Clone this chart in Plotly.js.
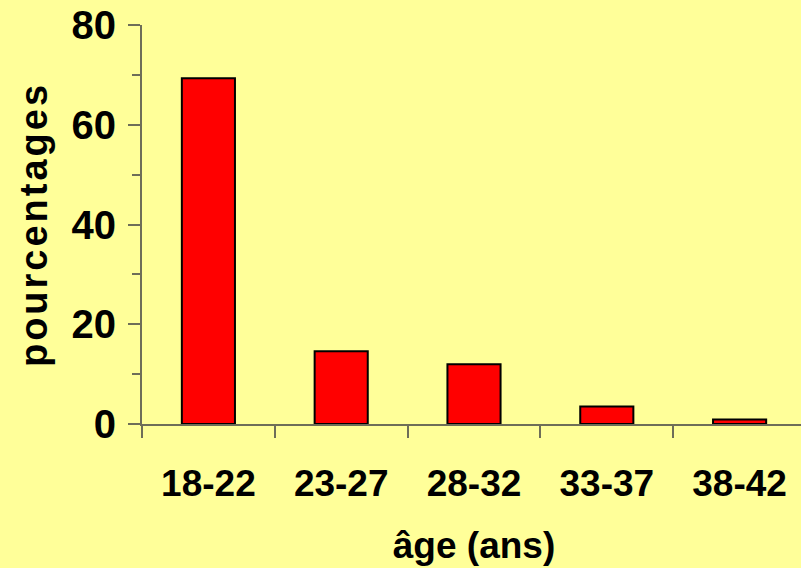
<!DOCTYPE html>
<html>
<head>
<meta charset="utf-8">
<script src="https://cdn.plot.ly/plotly-3.0.1.min.js"></script>
<style>
html, body { margin: 0; padding: 0; overflow: hidden; background: #FFFF99; }
#chart { width: 806px; height: 568px; }
#chart .ytitle { letter-spacing: 3px; }
</style>
</head>
<body>
<div id="chart"></div>
<script>
const categories = ["18-22", "23-27", "28-32", "33-37", "38-42"];
const percentages = [69.3, 14.6, 12.0, 3.5, 0.9];
const xTitle = "âge (ans)";
const yTitle = "pourcentages";

const fontFamily = "Liberation Sans, Arial, sans-serif";
const axisColor = "#6e6e58";

const trace = {
  type: "bar",
  x: categories,
  y: percentages,
  marker: { color: "#FF0000", line: { color: "#000000", width: 2 } },
  hoverinfo: "x+y"
};

const layout = {
  width: 806,
  height: 568,
  margin: { l: 142, r: 0, t: 25, b: 144, pad: 0 },
  paper_bgcolor: "#FFFF99",
  plot_bgcolor: "#FFFF99",
  showlegend: false,
  bargap: 0.6,
  font: { family: fontFamily, color: "#000000", weight: "bold" },
  xaxis: {
    type: "category",
    tickson: "boundaries",
    ticks: "outside",
    ticklen: 12,
    tickwidth: 2,
    tickcolor: axisColor,
    showline: true,
    linecolor: axisColor,
    linewidth: 2,
    showgrid: false,
    zeroline: false,
    tickfont: { family: fontFamily, size: 37, color: "#000000", weight: "bold" },
    ticklabelstandoff: 26,
    title: { text: xTitle, font: { family: fontFamily, size: 37, color: "#000000", weight: "bold" }, standoff: 29 },
    automargin: false
  },
  yaxis: {
    range: [0, 80],
    tick0: 0,
    dtick: 20,
    ticks: "outside",
    ticklen: 12,
    tickwidth: 2,
    tickcolor: axisColor,
    minor: { dtick: 10, ticks: "outside", ticklen: 8, tickwidth: 2, tickcolor: axisColor, showgrid: false },
    showline: true,
    linecolor: axisColor,
    linewidth: 2,
    showgrid: false,
    zeroline: false,
    tickfont: { family: fontFamily, size: 40, color: "#000000", weight: "bold" },
    ticklabelstandoff: 4,
    title: { text: yTitle, font: { family: fontFamily, size: 38, color: "#000000", weight: "bold" }, standoff: 12 },
    automargin: false
  }
};

Plotly.newPlot("chart", [trace], layout, { displayModeBar: false, staticPlot: true });
</script>
</body>
</html>
